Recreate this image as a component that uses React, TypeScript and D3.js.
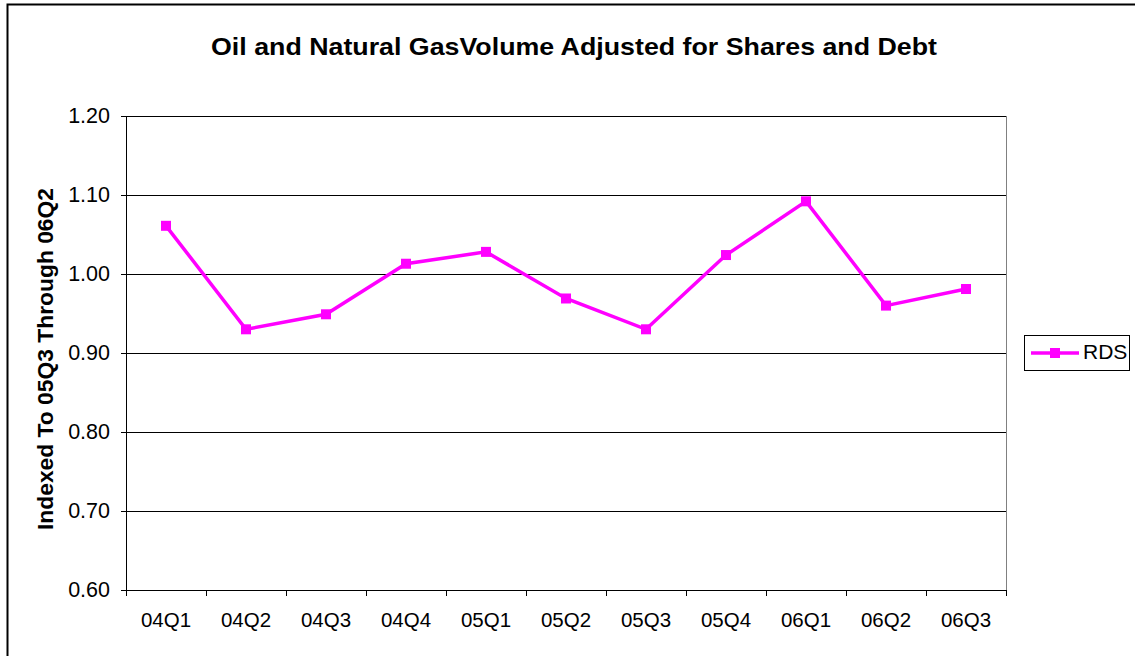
import React from 'react';
import * as d3 from 'd3';

const categories = ['04Q1', '04Q2', '04Q3', '04Q4', '05Q1', '05Q2', '05Q3', '05Q4', '06Q1', '06Q2', '06Q3'];
const rdsValues = [1.061, 0.930, 0.949, 1.013, 1.028, 0.969, 0.930, 1.024, 1.092, 0.960, 0.981];
const yTicks = [0.6, 0.7, 0.8, 0.9, 1.0, 1.1, 1.2];
const seriesName = 'RDS';

const W = 1135;
const H = 656;
const plot = { left: 126, right: 1006, top: 116, bottom: 590 };
const font = '"Liberation Sans", Arial, sans-serif';
const magenta = '#ff00ff';

export default function App() {
  const x = d3.scaleBand().domain(categories).range([plot.left, plot.right]);
  const y = d3.scaleLinear().domain([0.6, 1.2]).range([plot.bottom, plot.top]);

  const line = d3.line<number>()
    .x((_, i) => x(categories[i])! + x.bandwidth() / 2)
    .y(d => y(d));

  const boundaries = categories.map(c => x(c)!).concat([plot.right]);

  return (
    <svg width={W} height={H} style={{ position: 'absolute', left: 0, top: 0, display: 'block' }}
      fontFamily={font}>
      <rect x={0} y={0} width={W} height={H} fill="#fff" />
      <rect x={7.5} y={4.5} width={W + 20} height={H + 20} fill="none" stroke="#000" strokeWidth={2} />

      <text x={574} y={55} textAnchor="middle" fontSize={24} fontWeight="bold"
        textLength={726} lengthAdjust="spacingAndGlyphs">
        Oil and Natural GasVolume Adjusted for Shares and Debt
      </text>

      {/* gridlines */}
      {yTicks.slice(1).map(t => (
        <line key={t} x1={plot.left} x2={plot.right} y1={Math.round(y(t)) + 0.5} y2={Math.round(y(t)) + 0.5}
          stroke="#000" strokeWidth={1} />
      ))}
      <line x1={plot.right + 0.5} x2={plot.right + 0.5} y1={plot.top} y2={plot.bottom} stroke="#808080" strokeWidth={1} />

      {/* y axis */}
      <line x1={plot.left + 0.5} x2={plot.left + 0.5} y1={plot.top} y2={plot.bottom + 0.5} stroke="#000" />
      {yTicks.map(t => (
        <g key={t}>
          <line x1={plot.left - 5} x2={plot.left} y1={Math.round(y(t)) + 0.5} y2={Math.round(y(t)) + 0.5} stroke="#000" />
          <text x={110} y={y(t) + 7} textAnchor="end" fontSize={21.5}>{t.toFixed(2)}</text>
        </g>
      ))}

      {/* x axis */}
      <line x1={plot.left} x2={plot.right + 1} y1={plot.bottom + 0.5} y2={plot.bottom + 0.5} stroke="#000" />
      {boundaries.map((b, i) => (
        <line key={i} x1={b + 0.5} x2={b + 0.5} y1={plot.bottom} y2={plot.bottom + 6} stroke="#000" />
      ))}
      {categories.map(c => (
        <text key={c} x={x(c)! + x.bandwidth() / 2} y={627} textAnchor="middle" fontSize={20.5}>{c}</text>
      ))}

      <text transform={`translate(53, 359) rotate(-90)`} textAnchor="middle"
        fontSize={22} fontWeight="bold" textLength={342} lengthAdjust="spacingAndGlyphs">
        Indexed To 05Q3 Through 06Q2
      </text>

      {/* series */}
      <path d={line(rdsValues) || ''} fill="none" stroke={magenta} strokeWidth={3.5} />
      {rdsValues.map((v, i) => (
        <rect key={i} x={x(categories[i])! + x.bandwidth() / 2 - 5} y={y(v) - 5} width={10} height={10} fill={magenta} />
      ))}

      {/* legend */}
      <rect x={1024.5} y={335.5} width={105} height={35} fill="#fff" stroke="#000" />
      <line x1={1031} x2={1079} y1={353} y2={353} stroke={magenta} strokeWidth={3.5} />
      <rect x={1050} y={348} width={10} height={10} fill={magenta} />
      <text x={1083} y={359} fontSize={21}>{seriesName}</text>
    </svg>
  );
}
